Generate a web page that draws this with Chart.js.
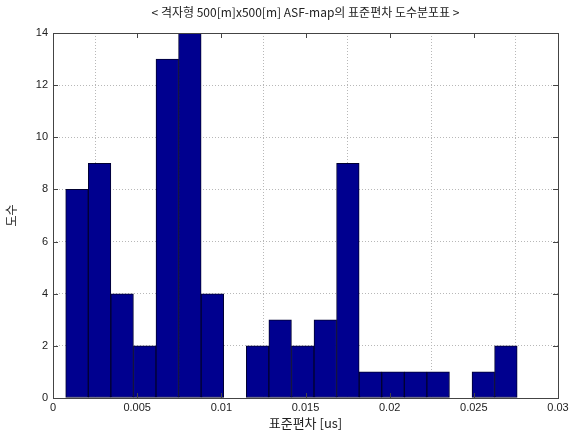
<!DOCTYPE html>
<html>
<head>
<meta charset="utf-8">
<script src="https://cdn.jsdelivr.net/npm/chart.js@4/dist/chart.umd.min.js"></script>
<style>
  html, body { margin: 0; padding: 0; background: #fff; }
  #c { display: block; }
</style>
</head>
<body>
<canvas id="c" width="583" height="430"></canvas>
<script>
// Histogram of standard deviations: bin centres and counts
const binCenters = [0.001425, 0.002766, 0.004107, 0.005448, 0.006789, 0.008130, 0.009471,
                    0.010812, 0.012153, 0.013494, 0.014835, 0.016176, 0.017517, 0.018858,
                    0.020199, 0.021540, 0.022881, 0.024222, 0.025563, 0.026904];
const counts = [8, 9, 4, 2, 13, 14, 4, 0, 2, 3, 2, 3, 9, 1, 1, 1, 1, 0, 1, 2];
const xTickLabels = ['0', '0.005', '0.01', '0.015', '0.02', '0.025', '0.03'];
const yTickLabels = ['0', '2', '4', '6', '8', '10', '12', '14'];

const titleText = '< 격자형 500[m]x500[m] ASF-map의 표준편차 도수분포표 >';
const xTitleText = '표준편차 [us]';
const yTitleText = '도수';

const FONT = "'Liberation Sans', Arial, 'Noto Sans CJK KR', sans-serif";
const KFONT = "'Noto Sans CJK KR', 'Liberation Sans', sans-serif";

// Axes box, inward tick marks and the title above the plot
const boxPlugin = {
  id: 'boxPlugin',
  afterDraw(chart) {
    const { ctx, chartArea: a, scales } = chart;
    ctx.save();
    ctx.strokeStyle = '#444';
    ctx.lineWidth = 1;
    ctx.strokeRect(Math.round(a.left) + 0.5, Math.round(a.top) + 0.5,
                   Math.round(a.right - a.left), Math.round(a.bottom - a.top));
    const tl = 5;
    ctx.beginPath();
    scales.x.ticks.forEach(t => {
      const px = Math.round(scales.x.getPixelForValue(t.value)) + 0.5;
      ctx.moveTo(px, a.bottom); ctx.lineTo(px, a.bottom - tl);
      ctx.moveTo(px, a.top); ctx.lineTo(px, a.top + tl);
    });
    scales.y.ticks.forEach(t => {
      const py = Math.round(scales.y.getPixelForValue(t.value)) + 0.5;
      ctx.moveTo(a.left, py); ctx.lineTo(a.left + tl, py);
      ctx.moveTo(a.right, py); ctx.lineTo(a.right - tl, py);
    });
    ctx.stroke();
    ctx.fillStyle = '#222';
    ctx.font = '12px ' + KFONT;
    ctx.textAlign = 'center';
    ctx.textBaseline = 'middle';
    ctx.fillText(titleText, (a.left + a.right) / 2, 12);
    ctx.restore();
  }
};

new Chart(document.getElementById('c'), {
  type: 'bar',
  data: {
    datasets: [{
      data: binCenters.map((x, i) => ({ x: x, y: counts[i] })),
      backgroundColor: '#00008F',
      borderColor: '#000030',
      borderWidth: 1,
      borderSkipped: false,
      barPercentage: 1.0,
      categoryPercentage: 1.0
    }]
  },
  options: {
    responsive: false,
    animation: false,
    devicePixelRatio: 1,
    layout: { padding: { left: 0, right: 25, top: 33, bottom: 0 } },
    plugins: { legend: { display: false }, tooltip: { enabled: false }, title: { display: false } },
    scales: {
      x: {
        type: 'linear',
        min: 0, max: 0.03,
        offset: false,
        afterFit(s) { s.height = 32; },
        ticks: {
          stepSize: 0.005,
          autoSkip: false,
          maxRotation: 0,
          padding: 3,
          color: '#222',
          font: { family: FONT, size: 11 },
          callback: (v, i) => xTickLabels[i]
        },
        grid: { color: '#b8b8b8', drawTicks: false, lineWidth: 1 },
        border: { display: false, dash: [1, 2] },
        title: { display: true, text: xTitleText, color: '#222',
                 font: { family: KFONT, size: 13 }, padding: { top: 0, bottom: -1 } }
      },
      y: {
        min: 0, max: 14,
        afterFit(s) { s.width = 53; },
        ticks: {
          stepSize: 2,
          padding: 5,
          color: '#222',
          font: { family: FONT, size: 11 },
          callback: (v, i) => yTickLabels[i]
        },
        grid: { color: '#b8b8b8', drawTicks: false, lineWidth: 1 },
        border: { display: false, dash: [1, 2] },
        title: { display: true, text: yTitleText, color: '#222',
                 font: { family: KFONT, size: 12 }, padding: { top: 4, bottom: 0 } }
      }
    }
  },
  plugins: [boxPlugin]
});
</script>
</body>
</html>
